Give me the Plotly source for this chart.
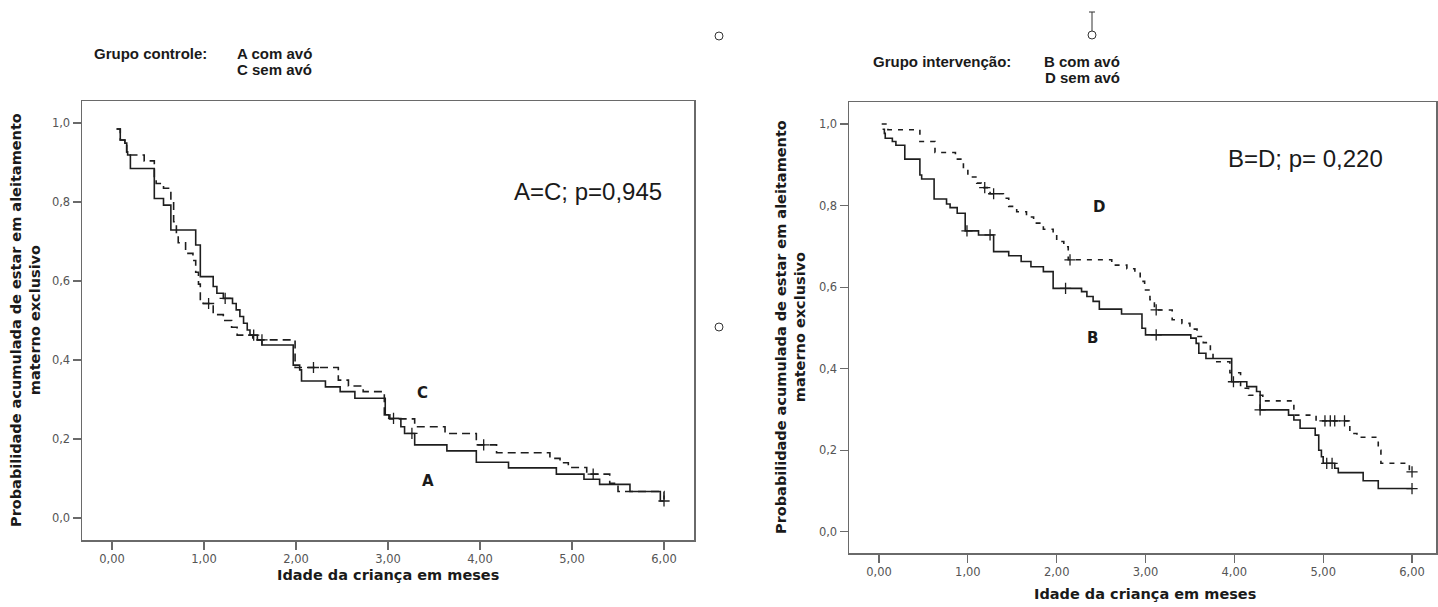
import plotly.graph_objects as go

# ---------------- data: left panel (Grupo controle) ----------------
A_t = [0.05, 0.09, 0.14, 0.16, 0.17, 0.20, 0.46, 0.56, 0.64, 0.91, 0.96, 1.10, 1.14, 1.21, 1.31, 1.35,
       1.39, 1.43, 1.47, 1.50, 1.58, 1.63, 1.97, 2.04, 2.06, 2.32, 2.48, 2.64, 2.97, 3.01, 3.14, 3.18,
       3.29, 3.64, 3.96, 4.31, 4.83, 5.13, 5.30, 5.63, 5.96, 6.00]
A_s = [0.985, 0.957, 0.949, 0.927, 0.919, 0.885, 0.809, 0.792, 0.729, 0.691, 0.611, 0.586, 0.569, 0.556,
       0.543, 0.527, 0.510, 0.493, 0.476, 0.463, 0.451, 0.438, 0.387, 0.375, 0.347, 0.332, 0.320, 0.303,
       0.261, 0.252, 0.231, 0.214, 0.185, 0.170, 0.141, 0.127, 0.111, 0.098, 0.085, 0.067, 0.043, 0.043]
A_cens_t = [1.23, 1.54, 3.06, 3.26, 6.00]
A_cens_s = [0.556, 0.463, 0.252, 0.214, 0.043]

C_t = [0.05, 0.09, 0.14, 0.16, 0.20, 0.35, 0.46, 0.48, 0.56, 0.64, 0.67, 0.70, 0.72, 0.80, 0.88, 0.91,
       0.94, 0.96, 0.99, 1.10, 1.21, 1.30, 1.36, 1.53, 1.99, 2.46, 2.57, 2.73, 2.96, 3.02, 3.29, 3.62,
       3.96, 4.18, 4.76, 4.87, 4.96, 5.16, 5.41, 5.50, 6.00]
C_s = [0.985, 0.957, 0.949, 0.927, 0.919, 0.904, 0.862, 0.847, 0.835, 0.805, 0.750, 0.720, 0.697, 0.670,
       0.652, 0.622, 0.592, 0.550, 0.543, 0.515, 0.500, 0.483, 0.463, 0.451, 0.381, 0.349, 0.334, 0.320,
       0.261, 0.251, 0.231, 0.214, 0.185, 0.165, 0.151, 0.140, 0.128, 0.111, 0.088, 0.067, 0.043]
C_cens_t = [1.05, 1.63, 2.19, 4.04, 5.23]
C_cens_s = [0.543, 0.451, 0.381, 0.185, 0.111]

# ---------------- data: right panel (Grupo intervenção) ----------------
B_t = [0.04, 0.06, 0.07, 0.15, 0.19, 0.29, 0.46, 0.48, 0.62, 0.76, 0.80, 0.88, 0.97, 1.12, 1.29, 1.46,
       1.60, 1.71, 1.85, 1.96, 2.28, 2.34, 2.41, 2.48, 2.73, 2.96, 3.00, 3.51, 3.57, 3.60, 3.68, 3.97,
       4.14, 4.25, 4.29, 4.61, 4.67, 4.74, 4.91, 4.95, 4.98, 5.00, 5.13, 5.17, 5.45, 5.62, 6.00]
B_s = [0.987, 0.977, 0.965, 0.957, 0.948, 0.914, 0.875, 0.865, 0.816, 0.804, 0.795, 0.781, 0.738, 0.728,
       0.687, 0.677, 0.663, 0.650, 0.638, 0.597, 0.589, 0.577, 0.565, 0.546, 0.534, 0.499, 0.483, 0.475,
       0.462, 0.438, 0.425, 0.368, 0.356, 0.344, 0.299, 0.286, 0.274, 0.254, 0.237, 0.200, 0.184, 0.168,
       0.156, 0.145, 0.125, 0.106, 0.106]
B_cens_t = [0.99, 1.25, 2.10, 3.12, 3.99, 4.29, 5.04, 5.10, 6.00]
B_cens_s = [0.738, 0.728, 0.597, 0.483, 0.368, 0.299, 0.168, 0.168, 0.106]

D_t = [0.03, 0.10, 0.46, 0.63, 0.86, 0.95, 1.00, 1.10, 1.15, 1.25, 1.40, 1.46, 1.55, 1.66, 1.74, 1.85,
       1.96, 2.00, 2.08, 2.13, 2.62, 2.79, 2.88, 2.94, 2.99, 3.05, 3.10, 3.30, 3.41, 3.50, 3.58, 3.65,
       3.73, 3.76, 3.95, 4.07, 4.16, 4.32, 4.67, 4.92, 5.30, 5.38, 5.62, 5.65, 5.97, 6.00]
D_s = [1.000, 0.986, 0.957, 0.930, 0.914, 0.890, 0.870, 0.855, 0.844, 0.829, 0.818, 0.798, 0.785, 0.772,
       0.757, 0.742, 0.732, 0.712, 0.699, 0.667, 0.654, 0.645, 0.636, 0.614, 0.593, 0.569, 0.544, 0.520,
       0.511, 0.497, 0.479, 0.464, 0.442, 0.417, 0.390, 0.352, 0.335, 0.321, 0.286, 0.272, 0.241, 0.232,
       0.200, 0.168, 0.147, 0.147]
D_cens_t = [1.19, 1.29, 2.15, 3.12, 5.02, 5.08, 5.13, 5.24, 6.00]
D_cens_s = [0.844, 0.829, 0.667, 0.544, 0.272, 0.272, 0.272, 0.272, 0.147]

# ---------------- ticks & texts ----------------
x_ticks = [0, 1, 2, 3, 4, 5, 6]
x_tick_labels = ["0,00", "1,00", "2,00", "3,00", "4,00", "5,00", "6,00"]
y_ticks = [0.0, 0.2, 0.4, 0.6, 0.8, 1.0]
y_tick_labels = ["0,0", "0,2", "0,4", "0,6", "0,8", "1,0"]
x_title = "Idade da criança em meses"
y_title = "Probabilidade acumulada de estar em aleitamento<br>materno exclusivo"

W, H = 1438, 607
LINE = "#1e1e1e"


def px(x):
    return x / W


def py(y):
    return 1 - y / H


fig = go.Figure()

def add_curve(t, s, ct, cs, xa, ya, dash):
    fig.add_trace(go.Scatter(x=t, y=s, mode="lines", xaxis=xa, yaxis=ya,
                             line=dict(shape="hv", color=LINE, width=1.6, dash=dash),
                             hoverinfo="skip", showlegend=False))
    fig.add_trace(go.Scatter(x=ct, y=cs, mode="markers", xaxis=xa, yaxis=ya,
                             marker=dict(symbol="cross-thin", size=8, color=LINE,
                                         line=dict(width=1.3, color=LINE)),
                             hoverinfo="skip", showlegend=False))

add_curve(A_t, A_s, A_cens_t, A_cens_s, "x", "y", "solid")
add_curve(C_t, C_s, C_cens_t, C_cens_s, "x", "y", "8px,5px")
add_curve(B_t, B_s, B_cens_t, B_cens_s, "x2", "y2", "solid")
add_curve(D_t, D_s, D_cens_t, D_cens_s, "x2", "y2", "5px,6px")

axis_common = dict(showline=True, mirror=True, linecolor="#6a6a6a", linewidth=1.5,
                   ticks="outside", ticklen=8, tickcolor="#6a6a6a", tickwidth=1.2,
                   showgrid=False, zeroline=False, fixedrange=True,
                   tickfont=dict(family="DejaVu Sans", size=11.5, color="#555555"))

fig.update_layout(
    width=W, height=H, margin=dict(l=0, r=0, t=0, b=0),
    paper_bgcolor="white", plot_bgcolor="white", showlegend=False,
    xaxis=dict(domain=[px(82), px(694)], range=[-0.326, 6.326], anchor="y",
               tickvals=x_ticks, ticktext=x_tick_labels, **axis_common),
    yaxis=dict(domain=[py(540), py(101)], range=[-0.0557, 1.0557], anchor="x",
               tickvals=y_ticks, ticktext=y_tick_labels, **axis_common),
    xaxis2=dict(domain=[px(849), px(1436)], range=[-0.338, 6.27], anchor="y2",
                tickvals=x_ticks, ticktext=x_tick_labels, **axis_common),
    yaxis2=dict(domain=[py(553), py(102)], range=[-0.052, 1.054], anchor="x2",
                tickvals=y_ticks, ticktext=y_tick_labels, **axis_common),
)

TITLE_FONT = dict(family="DejaVu Sans", size=14.5, color="#1a1a1a")
LETTER_FONT = dict(family="DejaVu Sans", size=15, color="#1a1a1a")
HEAD_FONT = dict(family="Liberation Sans", size=15, color="#1a1a1a")
P_FONT = dict(family="Liberation Sans", size=24, color="#1a1a1a")

annots = [
    # axis titles
    dict(x=px(388), y=py(575), text="<b>" + x_title + "</b>", font=TITLE_FONT),
    dict(x=px(1145), y=py(594), text="<b>" + x_title + "</b>", font=TITLE_FONT),
    dict(x=px(25), y=py(320), text="<b>" + y_title + "</b>", font=TITLE_FONT, textangle=-90),
    dict(x=px(790), y=py(327), text="<b>" + y_title + "</b>", font=TITLE_FONT, textangle=-90),
    # headers
    dict(x=px(92), y=py(53), text="<b>Grupo controle:</b>", font=HEAD_FONT, xanchor="left"),
    dict(x=px(314), y=py(53), text="<b>A com avó</b>", font=HEAD_FONT, xanchor="right"),
    dict(x=px(314), y=py(69), text="<b>C sem avó</b>", font=HEAD_FONT, xanchor="right"),
    dict(x=px(871), y=py(61), text="<b>Grupo intervenção:</b>", font=HEAD_FONT, xanchor="left"),
    dict(x=px(1122), y=py(61), text="<b>B com avó</b>", font=HEAD_FONT, xanchor="right"),
    dict(x=px(1122), y=py(77), text="<b>D sem avó</b>", font=HEAD_FONT, xanchor="right"),
    # p-values
    dict(x=px(588), y=py(192), text="A=C; p=0,945", font=P_FONT),
    dict(x=px(1305), y=py(158), text="B=D; p= 0,220", font=P_FONT),
    # curve labels
    dict(x=px(422), y=py(393), text="<b>C</b>", font=LETTER_FONT),
    dict(x=px(428), y=py(481), text="<b>A</b>", font=LETTER_FONT),
    dict(x=px(1099), y=py(207), text="<b>D</b>", font=LETTER_FONT),
    dict(x=px(1092), y=py(338), text="<b>B</b>", font=LETTER_FONT),
]
for a in annots:
    a.setdefault("xanchor", "center")
    a.update(xref="paper", yref="paper", yanchor="middle", showarrow=False)
fig.update_layout(annotations=annots)

# selection handles of the pasted picture (decorative)
shapes = []
for cx, cy in [(719, 36), (1092, 35), (719, 327)]:
    shapes.append(dict(type="circle", xref="paper", yref="paper",
                       x0=px(cx - 4), x1=px(cx + 4), y0=py(cy + 4), y1=py(cy - 4),
                       line=dict(color="#333", width=1), fillcolor="white"))
shapes.append(dict(type="line", xref="paper", yref="paper", x0=px(1092), x1=px(1092),
                   y0=py(31), y1=py(12), line=dict(color="#333", width=1)))
shapes.append(dict(type="line", xref="paper", yref="paper", x0=px(1089), x1=px(1095),
                   y0=py(12), y1=py(12), line=dict(color="#333", width=1)))
fig.update_layout(shapes=shapes)

fig.write_html("out.html",
               config={"displayModeBar": False, "staticPlot": True},
               post_script="document.body.style.margin='0px';"
                           "document.body.style.overflow='hidden';")
